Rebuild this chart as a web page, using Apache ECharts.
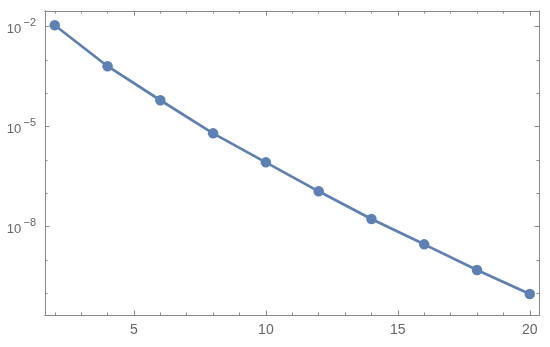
<!DOCTYPE html>
<html>
<head>
<meta charset="utf-8">
<script src="https://cdn.jsdelivr.net/npm/echarts@6/dist/echarts.min.js"></script>
<style>
  html, body { margin: 0; padding: 0; background: #fff; }
  #chart { width: 550px; height: 347px; }
</style>
</head>
<body>
<div id="chart"></div>
<script>
// data
const xValues = [2, 4, 6, 8, 10, 12, 14, 16, 18, 20];
const yValues = [1.1e-2, 6.5e-4, 6.2e-5, 6.3e-6, 8.5e-7, 1.15e-7, 1.7e-8, 2.95e-9, 5.0e-10, 9.5e-11];
const xMajorTicks = [5, 10, 15, 20];
const xMinorTicks = [2, 3, 4, 6, 7, 8, 9, 11, 12, 13, 14, 16, 17, 18, 19];
const yTickExponents = [-2, -5, -8];
const yMinorExponents = [-3, -4, -6, -7, -9, -10];

const frameColor = '#8a8a8a';
const labelColor = '#666';
const blue = '#5E81B5';

const xMin = 1.63, xMax = 20.35;
const yMin = Math.pow(10, -10.65), yMax = Math.pow(10, -1.53);

const yMajorTicks = yTickExponents.map(e => Math.pow(10, e));
const yMinorTicks = yMinorExponents.map(e => Math.pow(10, e));

const chart = echarts.init(document.getElementById('chart'));

function xAxisBase(pos, ticks, len) {
    return {
        type: 'value',
        position: pos,
        min: xMin,
        max: xMax,
        splitLine: { show: false },
        axisLine: { show: true, lineStyle: { color: frameColor, width: 1 } },
        axisTick: { show: true, inside: true, length: len, customValues: ticks, lineStyle: { color: frameColor } },
        axisLabel: { show: false }
    };
}

function yAxisBase(pos, ticks, len) {
    return {
        type: 'log',
        logBase: 10,
        position: pos,
        min: yMin,
        max: yMax,
        splitLine: { show: false },
        axisLine: { show: true, lineStyle: { color: frameColor, width: 1 } },
        axisTick: { show: true, inside: true, length: len, customValues: ticks, lineStyle: { color: frameColor } },
        axisLabel: { show: false }
    };
}

const xLabelled = xAxisBase('bottom', xMajorTicks, 4.5);
xLabelled.axisLabel = {
    show: true,
    customValues: xMajorTicks,
    color: labelColor,
    fontFamily: 'Liberation Sans',
    fontSize: 14,
    margin: 8
};

const yLabelled = yAxisBase('left', yMajorTicks, 4.5);
yLabelled.axisLabel = {
    show: true,
    customValues: yMajorTicks,
    margin: 9,
    formatter: function (v) {
        const e = Math.round(Math.log10(v));
        return '{b|10}{s|\u2009\u2212' + (-e) + '}';
    },
    rich: {
        b: { color: labelColor, fontFamily: 'Liberation Sans', fontSize: 13, verticalAlign: 'bottom', lineHeight: 18, padding: [6, 0, 0, 0] },
        s: { color: labelColor, fontFamily: 'Liberation Sans', fontSize: 11, verticalAlign: 'top', lineHeight: 18, padding: [0, 0, 6, 0] }
    }
};

const option = {
    animation: false,
    backgroundColor: '#fff',
    grid: { left: 45, top: 11, width: 494, height: 304, containLabel: false },
    xAxis: [
        xLabelled,
        xAxisBase('bottom', xMinorTicks, 2.5),
        xAxisBase('top', xMajorTicks, 4.5),
        xAxisBase('top', xMinorTicks, 2.5)
    ],
    yAxis: [
        yLabelled,
        yAxisBase('left', yMinorTicks, 2.5),
        yAxisBase('right', yMajorTicks, 4.5),
        yAxisBase('right', yMinorTicks, 2.5)
    ],
    series: [{
        type: 'line',
        xAxisIndex: 0,
        yAxisIndex: 0,
        data: xValues.map((x, i) => [x, yValues[i]]),
        symbol: 'circle',
        symbolSize: 10.5,
        lineStyle: { color: blue, width: 2.7 },
        itemStyle: { color: blue },
        z: 5
    }]
};

chart.setOption(option);
</script>
</body>
</html>
